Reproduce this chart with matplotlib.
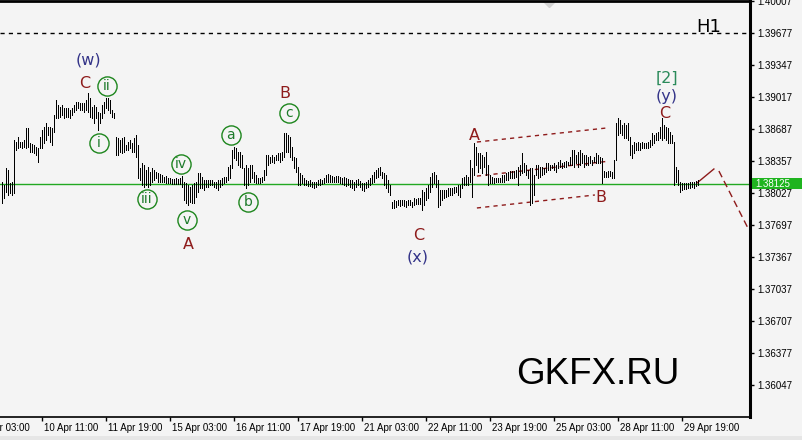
import matplotlib
matplotlib.use('Agg')
import matplotlib.pyplot as plt
from matplotlib.patches import Rectangle
from matplotlib.transforms import blended_transform_factory, ScaledTranslation

# H1 bars, high / low of each hour
highs = [
    1.38146, 1.38115, 1.38290, 1.38269, 1.38135, 1.38146, 1.38578, 1.38558, 1.38609, 1.38558,
    1.38558, 1.38578, 1.38702, 1.38702, 1.38547, 1.38537, 1.38527, 1.38506, 1.38496, 1.38609,
    1.38681, 1.38712, 1.38753, 1.38712, 1.38712, 1.38702, 1.38836, 1.38990, 1.38939, 1.38918,
    1.38939, 1.38908, 1.38908, 1.38908, 1.38887, 1.38908, 1.38939, 1.38970, 1.38970, 1.38959,
    1.38959, 1.38959, 1.38990, 1.39062, 1.39011, 1.38918, 1.38939, 1.38918, 1.38867, 1.38856,
    1.38939, 1.38970, 1.39011, 1.39011, 1.38990, 1.38887, 1.38856, 1.38609, 1.38599, 1.38578,
    1.38599, 1.38609, 1.38527, 1.38558, 1.38578, 1.38547, 1.38599, 1.38630, 1.38527, 1.38290,
    1.38341, 1.38321, 1.38269, 1.38300, 1.38249, 1.38290, 1.38269, 1.38249, 1.38238, 1.38228,
    1.38218, 1.38197, 1.38207, 1.38187, 1.38187, 1.38177, 1.38177, 1.38187, 1.38177, 1.38187,
    1.38207, 1.38146, 1.38135, 1.38115, 1.38094, 1.38115, 1.38135, 1.38146, 1.38238, 1.38238,
    1.38197, 1.38166, 1.38166, 1.38166, 1.38166, 1.38166, 1.38146, 1.38146, 1.38166, 1.38166,
    1.38187, 1.38197, 1.38197, 1.38300, 1.38321, 1.38475, 1.38506, 1.38496, 1.38455, 1.38455,
    1.38424, 1.38290, 1.38321, 1.38290, 1.38321, 1.38321, 1.38249, 1.38218, 1.38187, 1.38187,
    1.38197, 1.38269, 1.38424, 1.38424, 1.38403, 1.38424, 1.38403, 1.38424, 1.38444, 1.38444,
    1.38455, 1.38650, 1.38650, 1.38630, 1.38609, 1.38506, 1.38403, 1.38393, 1.38300, 1.38238,
    1.38218, 1.38187, 1.38166, 1.38156, 1.38166, 1.38146, 1.38146, 1.38146, 1.38166, 1.38177,
    1.38166, 1.38187, 1.38218, 1.38228, 1.38218, 1.38207, 1.38197, 1.38207, 1.38207, 1.38197,
    1.38187, 1.38197, 1.38187, 1.38177, 1.38166, 1.38166, 1.38146, 1.38166, 1.38177, 1.38156,
    1.38135, 1.38135, 1.38146, 1.38166, 1.38187, 1.38218, 1.38249, 1.38269, 1.38290, 1.38300,
    1.38249, 1.38238, 1.38218, 1.38166, 1.38115, 1.37940, 1.37960, 1.37950, 1.37960, 1.37960,
    1.37960, 1.37960, 1.37950, 1.37960, 1.37960, 1.37940, 1.37981, 1.37971, 1.37981, 1.37981,
    1.38063, 1.38043, 1.38084, 1.38115, 1.38197, 1.38238, 1.38249, 1.38218, 1.38166, 1.38063,
    1.38063, 1.38063, 1.38063, 1.38084, 1.38084, 1.38084, 1.38094, 1.38094, 1.38115, 1.38115,
    1.38187, 1.38197, 1.38218, 1.38197, 1.38372, 1.38290, 1.38547, 1.38506, 1.38444, 1.38444,
    1.38424, 1.38403, 1.38455, 1.38321, 1.38218, 1.38197, 1.38187, 1.38187, 1.38187, 1.38187,
    1.38218, 1.38218, 1.38238, 1.38249, 1.38259, 1.38259, 1.38259, 1.38269, 1.38300, 1.38321,
    1.38444, 1.38341, 1.38321, 1.38269, 1.38290, 1.38290, 1.38218, 1.38321, 1.38321, 1.38300,
    1.38300, 1.38290, 1.38341, 1.38341, 1.38321, 1.38321, 1.38341, 1.38321, 1.38352, 1.38372,
    1.38341, 1.38352, 1.38362, 1.38352, 1.38403, 1.38475, 1.38475, 1.38424, 1.38455, 1.38475,
    1.38444, 1.38424, 1.38424, 1.38403, 1.38413, 1.38372, 1.38403, 1.38444, 1.38424, 1.38403,
    1.38393, 1.38259, 1.38249, 1.38259, 1.38259, 1.38249, 1.38372, 1.38753, 1.38805, 1.38784,
    1.38733, 1.38753, 1.38733, 1.38753, 1.38609, 1.38527, 1.38558, 1.38547, 1.38558, 1.38547,
    1.38558, 1.38547, 1.38547, 1.38558, 1.38578, 1.38650, 1.38630, 1.38650, 1.38661, 1.38712,
    1.38805, 1.38733, 1.38712, 1.38702, 1.38661, 1.38630, 1.38558, 1.38300, 1.38269, 1.38146,
    1.38135, 1.38135, 1.38135, 1.38135, 1.38146, 1.38146, 1.38146, 1.38156, 1.38166,
]
lows = [
    1.37929, 1.37981, 1.38043, 1.38012, 1.38032, 1.38012, 1.38032, 1.38475, 1.38496, 1.38506,
    1.38496, 1.38506, 1.38496, 1.38506, 1.38455, 1.38455, 1.38444, 1.38424, 1.38352, 1.38496,
    1.38496, 1.38547, 1.38578, 1.38630, 1.38558, 1.38527, 1.38661, 1.38805, 1.38805, 1.38815,
    1.38836, 1.38805, 1.38815, 1.38815, 1.38805, 1.38836, 1.38867, 1.38887, 1.38908, 1.38887,
    1.38887, 1.38867, 1.38887, 1.38867, 1.38815, 1.38805, 1.38753, 1.38805, 1.38681, 1.38753,
    1.38805, 1.38856, 1.38908, 1.38887, 1.38856, 1.38815, 1.38805, 1.38424, 1.38424, 1.38455,
    1.38444, 1.38455, 1.38475, 1.38475, 1.38496, 1.38455, 1.38455, 1.38403, 1.38187, 1.38166,
    1.38115, 1.38094, 1.38115, 1.38094, 1.38115, 1.38146, 1.38166, 1.38187, 1.38146, 1.38146,
    1.38146, 1.38146, 1.38135, 1.38135, 1.38135, 1.38125, 1.38125, 1.38125, 1.38125, 1.38125,
    1.38094, 1.37960, 1.37929, 1.37909, 1.37940, 1.37929, 1.37929, 1.37991, 1.38043, 1.38084,
    1.38084, 1.38063, 1.38094, 1.38094, 1.38115, 1.38115, 1.38094, 1.38084, 1.38063, 1.38094,
    1.38115, 1.38135, 1.38146, 1.38166, 1.38187, 1.38290, 1.38393, 1.38372, 1.38321, 1.38300,
    1.38290, 1.38115, 1.38084, 1.38115, 1.38146, 1.38187, 1.38146, 1.38135, 1.38135, 1.38135,
    1.38146, 1.38166, 1.38218, 1.38321, 1.38341, 1.38352, 1.38341, 1.38372, 1.38372, 1.38352,
    1.38372, 1.38403, 1.38455, 1.38455, 1.38403, 1.38372, 1.38290, 1.38249, 1.38115, 1.38115,
    1.38135, 1.38115, 1.38115, 1.38104, 1.38104, 1.38094, 1.38084, 1.38094, 1.38115, 1.38115,
    1.38125, 1.38135, 1.38146, 1.38146, 1.38146, 1.38146, 1.38146, 1.38146, 1.38146, 1.38135,
    1.38125, 1.38115, 1.38104, 1.38115, 1.38094, 1.38084, 1.38063, 1.38094, 1.38115, 1.38094,
    1.38063, 1.38053, 1.38084, 1.38094, 1.38115, 1.38135, 1.38146, 1.38187, 1.38197, 1.38218,
    1.38187, 1.38115, 1.38084, 1.38043, 1.38012, 1.37878, 1.37878, 1.37888, 1.37909, 1.37898,
    1.37909, 1.37898, 1.37888, 1.37909, 1.37909, 1.37888, 1.37909, 1.37919, 1.37919, 1.37919,
    1.37857, 1.37909, 1.37960, 1.37981, 1.38043, 1.38094, 1.38135, 1.38094, 1.37888, 1.37909,
    1.37960, 1.37981, 1.37991, 1.38001, 1.38012, 1.38012, 1.38032, 1.38043, 1.38012, 1.37991,
    1.38084, 1.38115, 1.38115, 1.38115, 1.38146, 1.37991, 1.38218, 1.38321, 1.38249, 1.38290,
    1.38238, 1.38300, 1.38218, 1.38115, 1.38135, 1.38135, 1.38135, 1.38146, 1.38146, 1.38146,
    1.38146, 1.38146, 1.38166, 1.38166, 1.38187, 1.38187, 1.38187, 1.38197, 1.38115, 1.38218,
    1.38238, 1.38249, 1.38218, 1.38187, 1.37909, 1.37929, 1.38012, 1.38218, 1.38187, 1.38197,
    1.38218, 1.38228, 1.38249, 1.38269, 1.38269, 1.38290, 1.38269, 1.38249, 1.38290, 1.38300,
    1.38290, 1.38300, 1.38300, 1.38321, 1.38321, 1.38321, 1.38300, 1.38341, 1.38300, 1.38321,
    1.38341, 1.38300, 1.38321, 1.38321, 1.38341, 1.38321, 1.38352, 1.38341, 1.38341, 1.38341,
    1.38135, 1.38197, 1.38197, 1.38197, 1.38207, 1.38187, 1.38187, 1.38372, 1.38630, 1.38650,
    1.38630, 1.38599, 1.38599, 1.38578, 1.38424, 1.38393, 1.38444, 1.38475, 1.38475, 1.38475,
    1.38496, 1.38496, 1.38496, 1.38496, 1.38506, 1.38527, 1.38547, 1.38578, 1.38578, 1.38599,
    1.38578, 1.38599, 1.38578, 1.38547, 1.38547, 1.38547, 1.38115, 1.38146, 1.38115, 1.38043,
    1.38063, 1.38074, 1.38074, 1.38084, 1.38084, 1.38094, 1.38084, 1.38104, 1.38115,
]

# time axis: one label every 32 bars
tick_bars = [-12, 20, 52, 84, 116, 148, 180, 212, 244, 276, 308, 340]
tick_labels = ['9 Apr 03:00', '10 Apr 11:00', '11 Apr 19:00', '15 Apr 03:00', '16 Apr 11:00',
               '17 Apr 19:00', '21 Apr 03:00', '22 Apr 11:00', '23 Apr 19:00', '25 Apr 03:00',
               '28 Apr 11:00', '29 Apr 19:00']
price_ticks = [1.40007, 1.39677, 1.39347, 1.39017, 1.38687, 1.38357, 1.38027,
               1.37697, 1.37367, 1.37037, 1.36707, 1.36377, 1.36047]
last_price = 1.38125
h1_level = 1.39677

# wave labels: text, bar, price, colour
red = '#8e1b1b'
navy = '#333388'
plain_labels = [
    ('(w)', 43.2, 1.39401, navy), ('C', 41.6, 1.39164, red),
    ('A', 93.2, 1.37504, red), ('B', 141.6, 1.39061, red),
    ('C', 208.6, 1.37597, red), ('(x)', 208.2, 1.37370, navy),
    ('A', 236.2, 1.38628, red), ('B', 299.6, 1.37989, red),
    ('[2]', 332.6, 1.39216, '#2a8a5a'), ('(y)', 332.6, 1.39030, navy),
    ('C', 331.6, 1.38855, red),
]
circled_labels = [
    ('i', 48.6, 1.38546), ('ii', 52.6, 1.39133), ('iii', 72.6, 1.37968),
    ('iv', 89.6, 1.38329), ('v', 92.6, 1.37752), ('a', 114.6, 1.38628),
    ('b', 123.2, 1.37937), ('c', 143.6, 1.38855),
]
# channel around the (y) wave
channel = [
    ((237.6, 1.38556), (302.1, 1.38700)),
    ((237.6, 1.38205), (302.1, 1.38355)),
    ((237.6, 1.37876), (296.6, 1.38010)),
]
forecast_up = ((347.6, 1.38133), (356.1, 1.38278))
forecast_down = ((358.6, 1.38257), (373.6, 1.37649))

bg = '#f4f4f4'
plt.rcParams['font.family'] = ['Liberation Sans', 'DejaVu Sans']

fig = plt.figure(figsize=(8.03, 4.40), dpi=100, facecolor=bg)
ax = fig.add_axes([0, 23 / 440, 750 / 803, 416 / 440])
ax.set_facecolor(bg)

# slightly darker strip under the time scale
fig.patches.append(Rectangle((0, 0), 1, 4 / 440, transform=fig.transFigure,
                             facecolor='#e6e6e6', edgecolor='none'))

x = list(range(len(highs)))
ax.vlines(x, lows, highs, color='black', lw=0.72, antialiased=False, zorder=3)

ax.set_xlim(-0.85, 374.15)
ax.set_ylim(1.35721, 1.40010)

ax.axhline(last_price, color='#22a822', lw=1, zorder=2)
ax.axhline(h1_level, color='black', lw=1, ls=(0, (3, 3)), zorder=2)
ax.text(353.6, 1.39742, 'H1', fontsize=13, ha='center', va='center', family='DejaVu Sans')

for (x0, y0), (x1, y1) in channel:
    ax.plot([x0, x1], [y0, y1], color=red, lw=1, ls=(0, (3, 3)))
ax.plot([forecast_up[0][0], forecast_up[1][0]], [forecast_up[0][1], forecast_up[1][1]],
        color=red, lw=1)
ax.plot([forecast_down[0][0], forecast_down[1][0]], [forecast_down[0][1], forecast_down[1][1]],
        color=red, lw=1, ls=(0, (5, 3)))

for txt, bx, by, col in plain_labels:
    ax.text(bx, by, txt, color=col, fontsize=11.5, ha='center', va='center', family='DejaVu Sans')
for txt, bx, by in circled_labels:
    ax.plot(bx, by, 'o', ms=13.8, mfc='none', mec='#1d861d', mew=1)
    ax.text(bx, by, txt, color='#1d7a2a', fontsize=10, ha='center', va='center', family='DejaVu Sans')

# chart shift marker at the top
ax.plot(273.6, 1.40010, 'D', ms=6, color='#d2d2d2', clip_on=True)

# axes frame
ax.spines['left'].set_visible(False)
ax.spines['top'].set_linewidth(2)
ax.spines['right'].set_linewidth(2.2)
ax.spines['bottom'].set_linewidth(1.2)

ax.yaxis.tick_right()
ax.set_yticks(price_ticks)
ax.set_yticklabels(['%.5f' % p for p in price_ticks])
ax.tick_params(axis='y', direction='out', length=3, width=1, pad=2, labelsize=7)

ax.set_xticks(tick_bars[1:])
ax.set_xticklabels(tick_labels[1:])
ax.tick_params(axis='x', direction='out', length=3, width=1, pad=1.5, labelsize=7)
shift = ScaledTranslation(2 / 72, 0, fig.dpi_scale_trans)
for lab in ax.get_xticklabels():
    lab.set_horizontalalignment('left')
    lab.set_transform(lab.get_transform() + shift)
ax.annotate(tick_labels[0], xy=(tick_bars[0], 0), xycoords=('data', 'axes fraction'),
            xytext=(2, -4.5), textcoords='offset points', ha='left', va='top',
            fontsize=7, annotation_clip=False)

# current price box
trans = blended_transform_factory(ax.transAxes, ax.transData)
ax.add_patch(Rectangle((1.0027, last_price - 0.00057), 0.068, 0.00114, transform=trans,
                       facecolor='#1fb41f', edgecolor='none', clip_on=False, zorder=5))
ax.text(1.0075, last_price, '%.5f' % last_price, transform=trans, color='white',
        fontsize=7, ha='left', va='center', zorder=6, clip_on=False)

fig.text(598 / 803, 1 - 374 / 440, 'GKFX.RU', fontsize=26.5, ha='center', va='center')

fig.savefig('out.png', dpi=100, facecolor=bg)
